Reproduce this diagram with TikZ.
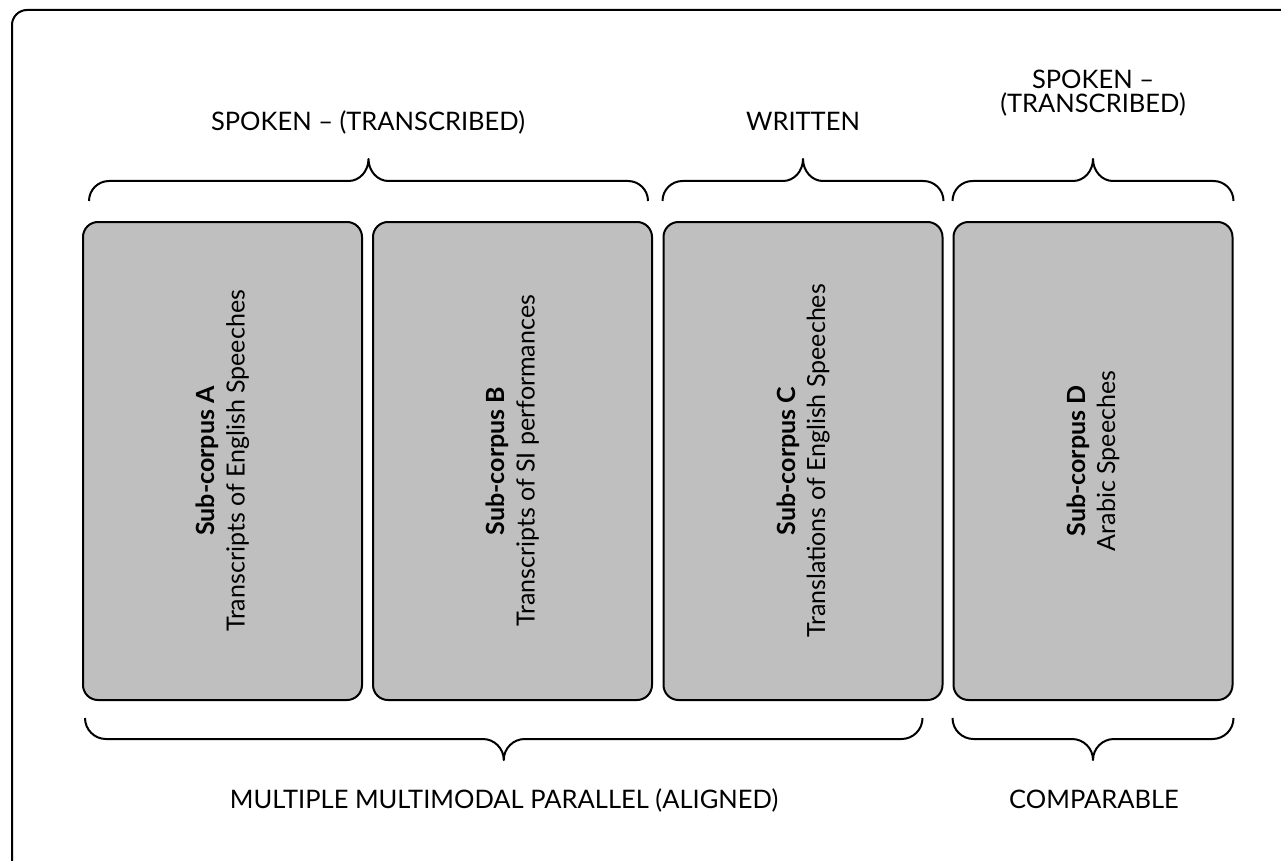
\documentclass[tikz,border=0pt]{standalone}
\usepackage{fontspec}
\setmainfont{Lato}
\usetikzlibrary{calc}
\definecolor{boxgray}{RGB}{191,191,191}
\begin{document}
\begin{tikzpicture}[x=1pt,y=-1pt,
  box/.style={draw=black, line width=2pt, fill=boxgray, rounded corners=15pt,
    minimum width=279pt, minimum height=478pt, inner sep=0pt},
  boxtext/.style={rotate=90, align=center, font=\fontsize{25pt}{30pt}\selectfont},
  lbl/.style={align=center, font=\fontsize{25.5pt}{25pt}\selectfont, inner sep=0pt},
  bracestyle/.style={draw=black, line width=2pt, line join=round},
  tbrace/.style={to path={let \p1=(\tikztostart), \p2=(\tikztotarget),
      \p3=($(\tikztostart)!0.5!(\tikztotarget)$) in
      arc[start angle=180, end angle=90, radius=20pt]
      -- (\x3-20pt, \y1+20pt)
      arc[start angle=270, end angle=360, x radius=20pt, y radius=22pt]
      arc[start angle=180, end angle=270, x radius=20pt, y radius=22pt]
      -- (\x2-20pt, \y2+20pt)
      arc[start angle=90, end angle=0, radius=20pt]}},
  bbrace/.style={to path={let \p1=(\tikztostart), \p2=(\tikztotarget),
      \p3=($(\tikztostart)!0.5!(\tikztotarget)$) in
      arc[start angle=180, end angle=270, radius=21pt]
      -- (\x3-21pt, \y1-21pt)
      arc[start angle=90, end angle=0, x radius=21pt, y radius=21pt]
      arc[start angle=180, end angle=90, x radius=21pt, y radius=21pt]
      -- (\x2-21pt, \y2-21pt)
      arc[start angle=270, end angle=360, radius=21pt]}}]
\useasboundingbox (0,0) rectangle (1281,861);
\clip (0,0) rectangle (1281,861);
\draw[line width=2pt, rounded corners=15pt] (12,10) rectangle (1320,900);

\node[box] (A) at (222.5,461) {};
\node[box] (B) at (512.5,461) {};
\node[box] (C) at (803,461) {};
\node[box] (D) at (1093,461) {};

\node[boxtext] (tA) at (A.center) {\textbf{Sub-corpus A}\\Transcripts of English Speeches};
\node[boxtext] (tB) at (B.center) {\textbf{Sub-corpus B}\\Transcripts of SI performances};
\node[boxtext] (tC) at (C.center) {\textbf{Sub-corpus C}\\Translations of English Speeches};
\node[boxtext] (tD) at (D.center) {\textbf{Sub-corpus D}\\Arabic Speeches};

% top braces
\draw[bracestyle] ([xshift=7pt,yshift=20pt]A.north west) to[tbrace] ([xshift=-5pt,yshift=20pt]B.north east);
\draw[bracestyle] ([yshift=20pt]C.north west) to[tbrace] ([yshift=20pt]C.north east);
\draw[bracestyle] ([yshift=20pt]D.north west) to[tbrace] ([yshift=20pt]D.north east);
% bottom braces
\draw[bracestyle] ([xshift=3pt,yshift=-17pt]A.south west) to[bbrace] ([xshift=-21pt,yshift=-17pt]C.south east);
\draw[bracestyle] ([yshift=-17pt]D.south west) to[bbrace] ([yshift=-17pt]D.south east);

\node[lbl, anchor=base] (l1) at (368,131) {SPOKEN – (TRANSCRIBED)};
\node[lbl, anchor=base] (l2) at (803,131) {WRITTEN};
\node[lbl, anchor=base] (l3) at (1093,113) {(TRANSCRIBED)};
\node[lbl, anchor=base] (l3a) at (1093,89) {SPOKEN –};
\node[lbl, anchor=base] (l4) at (504,808) {MULTIPLE MULTIMODAL PARALLEL (ALIGNED)};
\node[lbl, anchor=base] (l5) at (1094,808) {COMPARABLE};
\end{tikzpicture}
\end{document}
